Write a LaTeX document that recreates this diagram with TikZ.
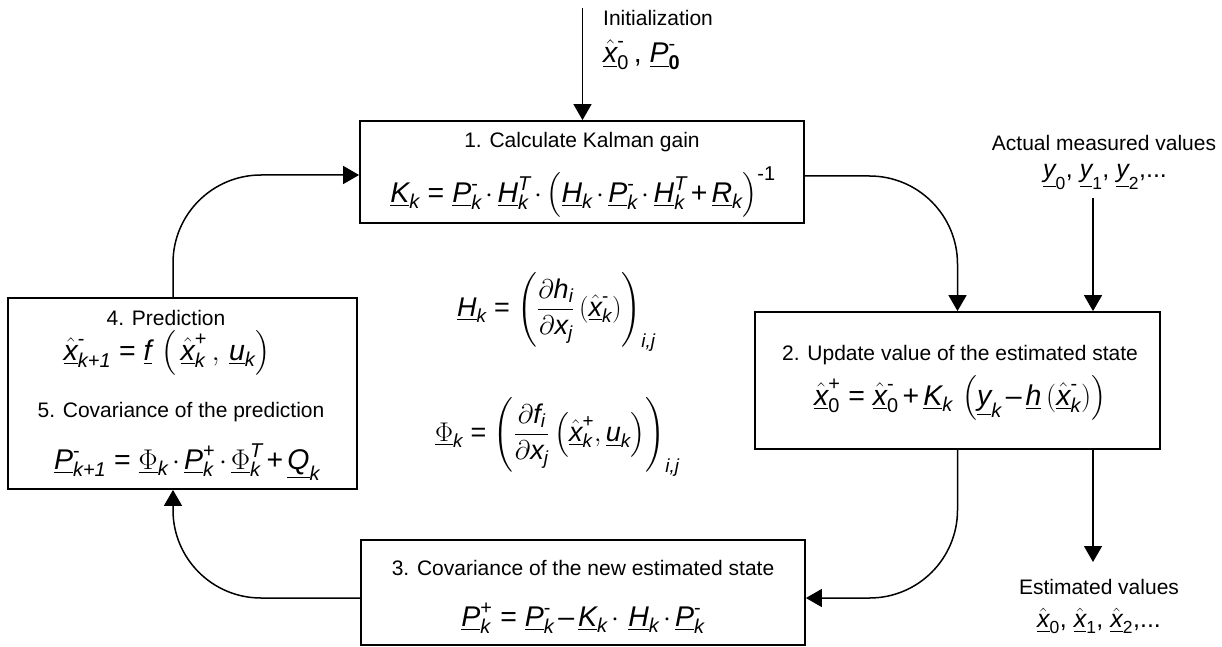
\RequirePackage{fix-cm}
\documentclass[tikz,border=0pt]{standalone}
\usepackage{amsmath}
\usepackage{fontspec}
\setmainfont{Liberation Sans}
\usetikzlibrary{arrows.meta}
\newcommand\uv[1]{\underline{\textit{#1}}}
\newcommand\xh{\underline{\hat{\textit{x}}}}
\newcommand\kk{\textit{k}}
\newcommand\mi{\text{-}}
\newcommand\pl{\text{+}}
\newcommand\eq{\mathrel{\text{=}}}
\newcommand\plus{\mathbin{\text{+}}}
\newcommand\minus{\mathbin{\text{–}}}
\newcommand\tightmath{\medmuskip=2.5mu\thickmuskip=5mu}
\tikzset{
  box/.style={draw, line width=1.8pt, inner sep=0pt},
  lbl/.style={inner sep=0pt, font=\fontsize{21}{25}\selectfont},
  fml/.style={inner sep=0pt, font=\fontsize{28.5}{33}\selectfont\tightmath},
  fmlm/.style={inner sep=0pt, font=\fontsize{27}{31}\selectfont\tightmath},
  fmls/.style={inner sep=0pt, font=\fontsize{25}{29}\selectfont\tightmath},
  arr/.style={line width=1.5pt, -{Triangle[width=18pt,length=16pt]}},
  con/.style={arr, rounded corners=88pt}
}
\begin{document}
\begin{tikzpicture}[x=1pt,y=-1pt]
\useasboundingbox (0,0) rectangle (1222,647);
% boxes
\node[box, minimum width=444pt, minimum height=102pt] (b1) at (582,172) {};
\node[box, minimum width=405pt, minimum height=137pt] (b2) at (957.5,380.5) {};
\node[box, minimum width=444pt, minimum height=105pt] (b3) at (583,592.5) {};
\node[box, minimum width=349pt, minimum height=191pt] (b4) at (182.5,393.5) {};
% texts
\node[lbl, anchor=west] (init) at (603,18) {Initialization};
\node[fml, anchor=west] (initv) at (603,55) {$\xh^{\mi}_{\text{0}}$\,, $\uv{P}^{\mi}_{\textbf{0}}$};
\node[lbl] (t1) at (582,142) {1. Calculate Kalman gain};
\node[fml] (f1) at (583,192) {$\uv{K}_{\kk} \eq \uv{P}^{\mi}_{\kk}\cdot\uv{H}^{\textit{T}}_{\kk}\cdot\left(\uv{H}_{\kk}\cdot\uv{P}^{\mi}_{\kk}\cdot\uv{H}^{\textit{T}}_{\kk}\plus\uv{R}_{\kk}\right)^{\text{-1}}$};
\node[lbl] (meas) at (1104,143) {Actual measured values};
\node[fmls] (measv) at (1105,177) {$\uv{y}_{\text{0}}$, $\uv{y}_{\text{1}}$, $\uv{y}_{\text{2}}$,...};
\node[lbl] (t2) at (960,355) {2. Update value of the estimated state};
\node[fml] (f2) at (960,398) {$\xh^{\pl}_{\text{0}} \eq \xh^{\mi}_{\text{0}}\plus\uv{K}_{\kk}\,\left(\uv{y}_{\kk}\minus\uv{h}\left(\xh^{\mi}_{\kk}\right)\right)$};
\node[lbl] (est) at (1099,587) {Estimated values};
\node[fmls] (estv) at (1099,621) {$\xh_{\text{0}}$, $\xh_{\text{1}}$, $\xh_{\text{2}}$,...};
\node[lbl] (t3) at (583,568) {3. Covariance of the new estimated state};
\node[fml] (f3) at (583,618) {$\uv{P}^{\pl}_{\kk} \eq \uv{P}^{\mi}_{\kk}\minus\uv{K}_{\kk}\cdot\,\uv{H}_{\kk}\cdot\uv{P}^{\mi}_{\kk}$};
\node[lbl] (t4) at (166,318) {4. Prediction};
\node[fml] (f4) at (167,353) {$\xh^{\mi}_{\textit{k+1}} \eq \uv{f}\,\left(\,\xh^{\pl}_{\kk}\,,\,\uv{u}_{\kk}\right)$};
\node[lbl] (t5) at (181,412) {5. Covariance of the prediction};
\node[fml] (f5) at (187,462) {$\uv{P}^{\mi}_{\textit{k+1}} \eq \underline{\Phi}_{\kk}\cdot\uv{P}^{\pl}_{\kk}\cdot\underline{\Phi}^{\textit{T}}_{\kk}\plus\uv{Q}_{\kk}$};
\node[fmlm, anchor=west] (fh) at (457,312) {$\uv{H}_{\kk} \eq \left(\dfrac{\partial\textit{h}_{\textit{i}}}{\partial\textit{x}_{\textit{j}}}\left(\xh^{\mi}_{\kk}\right)\right)_{\textit{i,j}}$};
\node[fmlm, anchor=west] (fphi) at (435,437) {$\underline{\Phi}_{\kk} \eq \left(\dfrac{\partial\textit{f}_{\textit{i}}}{\partial\textit{x}_{\textit{j}}}\left(\xh^{\pl}_{\kk},\uv{u}_{\kk}\right)\right)_{\textit{i,j}}$};
% connectors
\coordinate (initTop) at (582.5,8);
\coordinate (measTop) at (1093,198);
\coordinate (estTip) at (1093,562);
\draw[arr] (initTop) -- (initTop |- b1.north);
\draw[arr] (measTop) -- (measTop |- b2.north);
\draw[arr] (b2.south -| estTip) -- (estTip);
\draw[con] (b1.east |- 0,176) -| (b2.north);
\draw[con] (b2.south) |- (b3.east |- 0,598);
\draw[con] (b3.west |- 0,598) -| (b4.south -| 173,0);
\draw[con] (b4.north -| 173,0) |- (b1.west |- 0,175);
\end{tikzpicture}
\end{document}
